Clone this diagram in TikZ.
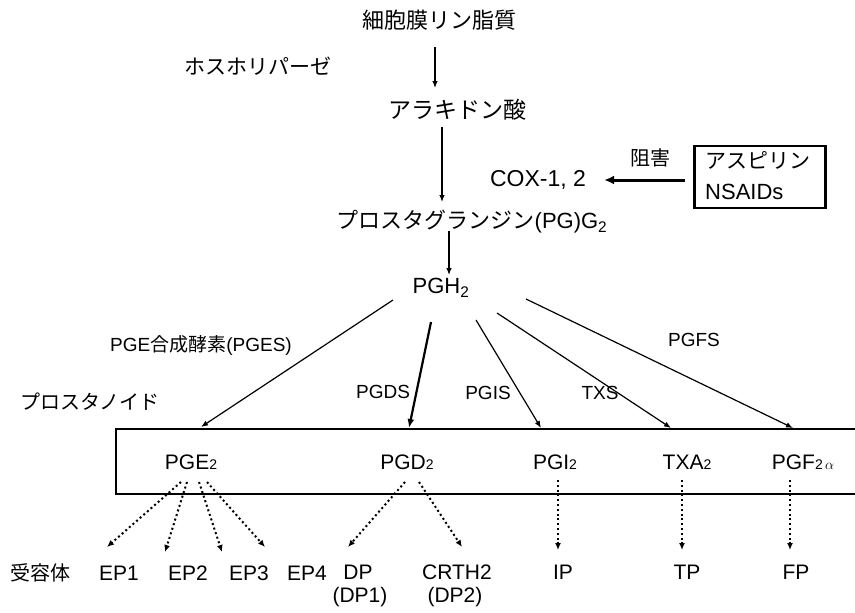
\documentclass[tikz,border=0pt]{standalone}
\usepackage{fontspec}
\setmainfont{Liberation Sans}
\newfontfamily\jpfont{Noto Sans CJK JP}
\usetikzlibrary{arrows.meta}
\begin{document}
\begin{tikzpicture}[x=1pt,y=-1pt,
  jp/.style={font=\jpfont\fontsize{#1}{#1}\selectfont, inner sep=0pt},
  la/.style={font=\fontsize{#1}{#1}\selectfont, inner sep=0pt},
  arr/.style={line width=1.2pt, -{Latex[length=7pt,width=5.5pt]}},
  thickarr/.style={line width=2.2pt, -{Latex[length=9pt,width=7pt]}},
  bigarr/.style={line width=3pt, -{Latex[length=10pt,width=9pt]}},
  dotarr/.style={line width=2pt, dash pattern=on 2pt off 2.8pt, -{Latex[length=7pt,width=6pt]}}
]
\useasboundingbox (0,0) rectangle (855,613);

% top chain
\node[jp=22] (cell) at (439,20) {細胞膜リン脂質};
\node[jp=21] (phos) at (258,66) {ホスホリパーゼ};
\node[jp=23] (ara) at (457,110) {アラキドン酸};
\node[la=23] (cox) at (538,180) {COX-1, 2};
\node[jp=20] (inh) at (650,158) {阻害};
\node[draw, line width=2.6pt, minimum width=131pt, minimum height=62pt, inner sep=0pt] (asp) at (760,177) {};
\node[jp=21, anchor=west] (asp1) at (705,160) {アスピリン};
\node[la=22, anchor=west] (asp2) at (705,192) {NSAIDs};
\node[la=22] (pgg) at (472,222) {{\jpfont プロスタグランジン}(PG)G\textsubscript{2}};
\node[la=22] (pgh) at (441,288) {PGH\textsubscript{2}};

\coordinate (a1s) at (435,47);  \coordinate (a1e) at (435,88);
\coordinate (a2s) at (442,127); \coordinate (a2e) at (442,202);
\coordinate (a3s) at (449,231); \coordinate (a3e) at (449,275);
\draw[arr] (a1s) -- (a1e);
\draw[arr] (a2s) -- (a2e);
\draw[arr] (a3s) -- (a3e);
\draw[bigarr, shorten <=8pt, shorten >=18pt] (cox.east -| asp.west) -- (cox.east);

% fan from PGH2
\coordinate (s1) at (393,300); \coordinate (e1) at (201,427);
\coordinate (s2) at (431,322); \coordinate (e2) at (409,428);
\coordinate (s3) at (476,320); \coordinate (e3) at (541,428);
\coordinate (s4) at (497,313); \coordinate (e4) at (671,428);
\coordinate (s5) at (526,299); \coordinate (e5) at (793,428);
\draw[arr] (s1) -- (e1);
\draw[thickarr] (s2) -- (e2);
\draw[arr] (s3) -- (e3);
\draw[arr] (s4) -- (e4);
\draw[arr] (s5) -- (e5);

\node[la=19] (pges) at (201,345) {PGE{\jpfont 合成酵素}(PGES)};
\node[la=19] (pgds) at (383,392) {PGDS};
\node[la=19] (pgis) at (488,393) {PGIS};
\node[la=19] (txs) at (600,393) {TXS};
\node[la=19] (pgfs) at (694,340) {PGFS};
\node[jp=20] (prost) at (90,402) {プロスタノイド};

% prostanoid box (open at right edge)
\draw[line width=2pt] (856,429) -- (116,429) -- (116,494) -- (856,494);

\node[la=21] (pge2) at (191,462) {PGE{\fontsize{14}{14}\selectfont 2}};
\node[la=21] (pgd2) at (407,462) {PGD{\fontsize{14}{14}\selectfont 2}};
\node[la=21] (pgi2) at (555,462) {PGI{\fontsize{14}{14}\selectfont 2}};
\node[la=21] (txa2) at (687,462) {TXA{\fontsize{14}{14}\selectfont 2}};
\node[la=21] (pgf2) at (803,462) {PGF{\fontsize{14}{14}\selectfont 2\,$\alpha$}};

% receptors
\node[jp=20] (rec) at (40,573) {受容体};
\node[la=21] (ep1) at (119,573) {EP1};
\node[la=21] (ep2) at (188,573) {EP2};
\node[la=21] (ep3) at (249,573) {EP3};
\node[la=21] (ep4) at (307,573) {EP4};
\node[la=21] (dp) at (358,572) {DP};
\node[la=21] (dp1) at (360,597) {(DP1)};
\node[la=21] (crth) at (457,572) {CRTH2};
\node[la=21] (dp2) at (455,597) {(DP2)};
\node[la=21] (ip) at (563,572) {IP};
\node[la=21] (tp) at (687,572) {TP};
\node[la=21] (fp) at (796,572) {FP};

% dotted receptor arrows
\coordinate (d1s) at (181,482); \coordinate (d1e) at (107,547);
\coordinate (d2s) at (187,482); \coordinate (d2e) at (165,552);
\coordinate (d3s) at (199,482); \coordinate (d3e) at (222,552);
\coordinate (d4s) at (207,482); \coordinate (d4e) at (265,547);
\coordinate (d5s) at (405,482); \coordinate (d5e) at (348,547);
\coordinate (d6s) at (419,482); \coordinate (d6e) at (462,547);
\coordinate (d7s) at (558,480); \coordinate (d7e) at (558,550);
\coordinate (d8s) at (682,480); \coordinate (d8e) at (682,550);
\coordinate (d9s) at (790,480); \coordinate (d9e) at (790,550);
\foreach \i in {1,...,9} {\draw[dotarr] (d\i s) -- (d\i e);}
\end{tikzpicture}
\end{document}
